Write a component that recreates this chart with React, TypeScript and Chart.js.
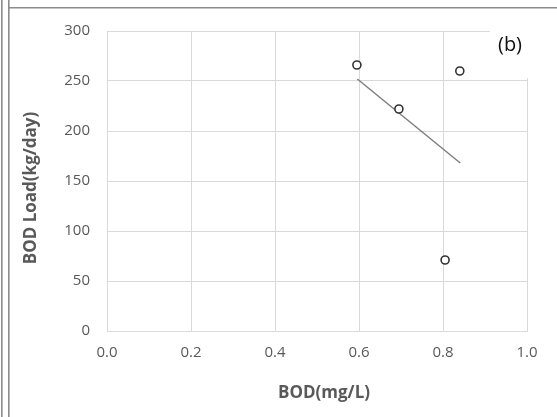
import React, { useEffect, useRef } from "react";
import { Chart, registerables } from "chart.js";

Chart.register(...registerables);

// Observed data (BOD concentration vs BOD load)
const bodConc = [0.595, 0.695, 0.84, 0.805];
const bodLoad = [266, 222, 260, 71];

// Trend line endpoints
const trendX = [0.596, 0.841];
const trendY = [252, 168];

const xTicks = [0, 0.2, 0.4, 0.6, 0.8, 1.0];
const yTicks = [0, 50, 100, 150, 200, 250, 300];

const xTitle = "BOD(mg/L)";
const yTitle = "BOD Load(kg/day)";
const panelLabel = "(b)";

const FONT = "'Open Sans', 'DejaVu Sans', sans-serif";

const decorPlugin = {
  id: "decor",
  afterDraw(chart: any) {
    const ctx = chart.ctx;
    const area = chart.chartArea;
    ctx.save();
    // axis titles
    ctx.fillStyle = "#595959";
    ctx.font = `bold 17px ${FONT}`;
    ctx.textAlign = "center";
    ctx.textBaseline = "middle";
    ctx.fillText(xTitle, (area.left + area.right) / 2 + 7, 393);
    ctx.save();
    ctx.translate(31, (area.top + area.bottom) / 2 + 7);
    ctx.rotate(-Math.PI / 2);
    ctx.fillText(yTitle, 0, 0);
    ctx.restore();
    // white label box covering top-right corner
    ctx.fillStyle = "#ffffff";
    ctx.fillRect(490, 24, 45, 54);
    ctx.fillStyle = "#111111";
    ctx.font = `20px ${FONT}`;
    ctx.fillText(panelLabel, 510, 45);
    // frame lines
    ctx.fillStyle = "#8c8c8c";
    ctx.fillRect(1, 0, 1.6, 417);
    ctx.fillRect(8, 0, 1.6, 417);
    ctx.fillRect(8, 7, 549, 1.5);
    ctx.restore();
  },
};

export default function App() {
  const ref = useRef<HTMLCanvasElement | null>(null);

  useEffect(() => {
    if (!ref.current) return;
    const chart = new Chart(ref.current, {
      type: "scatter",
      data: {
        datasets: [
          {
            label: "Data",
            data: bodConc.map((x, i) => ({ x, y: bodLoad[i] })),
            pointStyle: "circle",
            pointRadius: 4,
            pointBorderWidth: 1.6,
            pointBorderColor: "#333333",
            pointBackgroundColor: "#ffffff",
            showLine: false,
            order: 1,
          },
          {
            label: "Trend",
            data: trendX.map((x, i) => ({ x, y: trendY[i] })),
            showLine: true,
            borderColor: "#7f7f7f",
            borderWidth: 1.5,
            pointRadius: 0,
            order: 2,
          },
        ],
      },
      options: {
        responsive: false,
        animation: false,
        layout: { padding: { left: 0, right: 30, top: 31, bottom: 0 } },
        plugins: {
          legend: { display: false },
          tooltip: { enabled: false },
        },
        scales: {
          x: {
            type: "linear",
            min: xTicks[0],
            max: xTicks[xTicks.length - 1],
            afterBuildTicks: (scale: any) => {
              scale.ticks = xTicks.map((v) => ({ value: v }));
            },
            afterFit: (scale: any) => {
              scale.height = 86;
            },
            grid: { color: "#d9d9d9", lineWidth: 1, drawTicks: false },
            border: { color: "#d9d9d9", width: 1 },
            ticks: {
              padding: 13,
              color: "#595959",
              font: { family: FONT, size: 15 },
              callback: (v: any) => Number(v).toFixed(1),
              maxRotation: 0,
            },
            title: { display: false },
          },
          y: {
            type: "linear",
            min: yTicks[0],
            max: yTicks[yTicks.length - 1],
            afterBuildTicks: (scale: any) => {
              scale.ticks = yTicks.map((v) => ({ value: v }));
            },
            afterFit: (scale: any) => {
              scale.width = 107;
            },
            grid: { color: "#d9d9d9", lineWidth: 1, drawTicks: false },
            border: { color: "#d9d9d9", width: 1 },
            ticks: {
              padding: 17,
              color: "#595959",
              font: { family: FONT, size: 15 },
              callback: (v: any) => String(v),
            },
            title: { display: false },
          },
        },
      },
      plugins: [decorPlugin],
    });
    return () => chart.destroy();
  }, []);

  return (
    <div style={{ position: "fixed", left: 0, top: 0, width: 557, height: 417, background: "#ffffff" }}>
      <canvas ref={ref} width={557} height={417} style={{ width: 557, height: 417, display: "block" }} />
    </div>
  );
}
